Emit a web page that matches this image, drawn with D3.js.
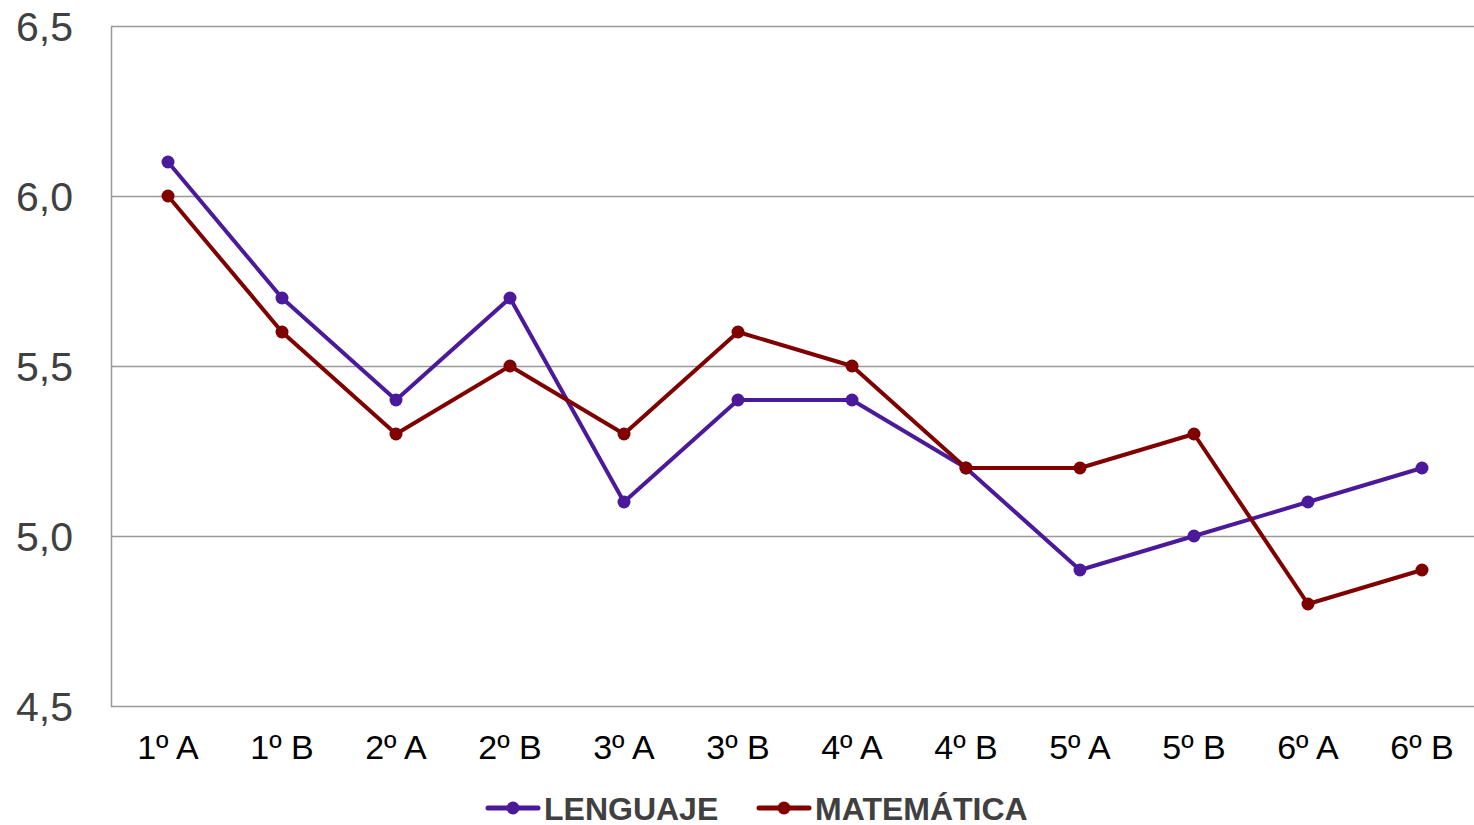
<!DOCTYPE html>
<html>
<head>
<meta charset="utf-8">
<script src="https://cdn.jsdelivr.net/npm/d3@7"></script>
<style>
  body { margin: 0; background: #fff; }
  svg { display: block; font-family: 'Liberation Sans', Arial, sans-serif; }
</style>
</head>
<body>
<svg id="chart" width="1474" height="825"></svg>
<script>
var cursos = [ '1º A', '1º B', '2º A', '2º B', '3º A', '3º B', '4º A', '4º B', '5º A', '5º B', '6º A', '6º B' ];
var lenguaje = [ 6.1, 5.7, 5.4, 5.7, 5.1, 5.4, 5.4, 5.2, 4.9, 5.0, 5.1, 5.2 ];
var matematica = [ 6.0, 5.6, 5.3, 5.5, 5.3, 5.6, 5.5, 5.2, 5.2, 5.3, 4.8, 4.9 ];
var yTicks = [ 4.5, 5.0, 5.5, 6.0, 6.5 ];

var series = [
  { name: 'LENGUAJE', values: lenguaje, color: '#4B1A9A' },
  { name: 'MATEMÁTICA', values: matematica, color: '#800000' }
];

var svg = d3.select( '#chart' ),
  margin = { top: 26, right: -5, bottom: 119, left: 111 },
  width = +svg.attr( 'width' ),
  height = +svg.attr( 'height' );

var x = d3.scaleBand()
  .domain( cursos )
  .range( [ margin.left, width - margin.right ] );

var y = d3.scaleLinear()
  .domain( [ 4.5, 6.5 ] )
  .range( [ height - margin.bottom, margin.top ] );

var fmt = d => d3.format( '.1f' )( d ).replace( '.', ',' );

// grid
svg.append( 'g' )
  .selectAll( 'line' )
  .data( yTicks )
  .enter().append( 'line' )
    .attr( 'x1', margin.left )
    .attr( 'x2', width - margin.right )
    .attr( 'y1', d => y( d ) + 0.5 )
    .attr( 'y2', d => y( d ) + 0.5 )
    .style( 'stroke', '#999' )
    .style( 'stroke-width', 1.5 );

svg.append( 'line' )
  .attr( 'x1', margin.left + 0.5 )
  .attr( 'x2', margin.left + 0.5 )
  .attr( 'y1', y( 6.5 ) )
  .attr( 'y2', y( 4.5 ) + 1 )
  .style( 'stroke', '#999' )
  .style( 'stroke-width', 1.5 );

// y labels
svg.append( 'g' )
  .selectAll( 'text' )
  .data( yTicks )
  .enter().append( 'text' )
    .attr( 'x', 73 )
    .attr( 'y', d => y( d ) + 14.5 )
    .attr( 'text-anchor', 'end' )
    .style( 'font-size', '41px' )
    .style( 'fill', '#404040' )
    .text( fmt );

// x labels
svg.append( 'g' )
  .selectAll( 'text' )
  .data( cursos )
  .enter().append( 'text' )
    .attr( 'x', d => x( d ) + x.bandwidth() / 2 )
    .attr( 'y', 759 )
    .attr( 'text-anchor', 'middle' )
    .style( 'font-size', '34px' )
    .style( 'fill', '#000' )
    .text( d => d );

var line = d3.line()
  .x( ( d, i ) => x( cursos[ i ] ) + x.bandwidth() / 2 )
  .y( d => y( d ) );

series.forEach( s => {
  svg.append( 'path' )
    .datum( s.values )
    .attr( 'd', line )
    .style( 'fill', 'none' )
    .style( 'stroke', s.color )
    .style( 'stroke-width', 4 )
    .style( 'stroke-linejoin', 'round' );

  svg.append( 'g' )
    .selectAll( 'circle' )
    .data( s.values )
    .enter().append( 'circle' )
      .attr( 'cx', ( d, i ) => x( cursos[ i ] ) + x.bandwidth() / 2 )
      .attr( 'cy', d => y( d ) )
      .attr( 'r', 6.5 )
      .style( 'fill', s.color );
} );

/* Legend */
var legendX = [ 486, 757 ];
var legend = svg.append( 'g' )
  .selectAll( 'g' )
  .data( series )
  .enter().append( 'g' )
    .attr( 'transform', ( d, i ) => 'translate(' + legendX[ i ] + ',808)' );

legend.append( 'line' )
  .attr( 'x1', 2 ).attr( 'x2', 52 )
  .style( 'stroke', d => d.color )
  .style( 'stroke-width', 5 )
  .style( 'stroke-linecap', 'round' );

legend.append( 'circle' )
  .attr( 'cx', 27 )
  .attr( 'r', 6.5 )
  .style( 'fill', d => d.color );

legend.append( 'text' )
  .attr( 'x', 58 )
  .attr( 'y', 12 )
  .style( 'font-size', '32px' )
  .style( 'font-weight', 'bold' )
  .style( 'fill', '#404040' )
  .text( d => d.name );
</script>
</body>
</html>
